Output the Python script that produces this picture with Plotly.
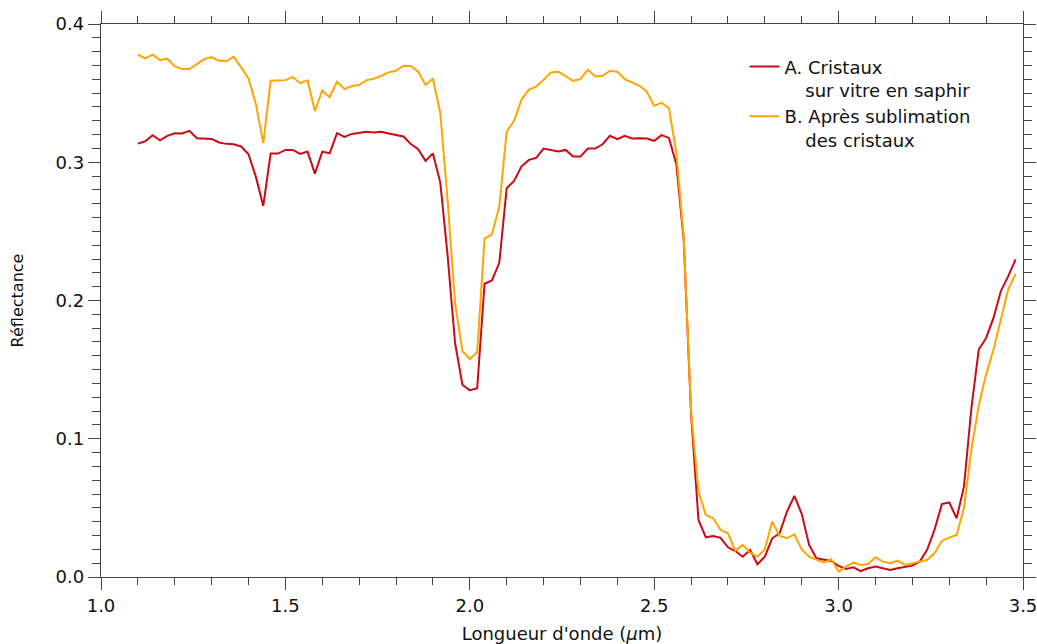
import plotly.graph_objects as go

wavelength = [
    1.10, 1.12, 1.14, 1.16, 1.18, 1.20, 1.22, 1.24, 1.26, 1.28,
    1.30, 1.32, 1.34, 1.36, 1.38, 1.40, 1.42, 1.44, 1.46, 1.48,
    1.50, 1.52, 1.54, 1.56, 1.58, 1.60, 1.62, 1.64, 1.66, 1.68,
    1.70, 1.72, 1.74, 1.76, 1.78, 1.80, 1.82, 1.84, 1.86, 1.88,
    1.90, 1.92, 1.94, 1.96, 1.98, 2.00, 2.02, 2.04, 2.06, 2.08,
    2.10, 2.12, 2.14, 2.16, 2.18, 2.20, 2.22, 2.24, 2.26, 2.28,
    2.30, 2.32, 2.34, 2.36, 2.38, 2.40, 2.42, 2.44, 2.46, 2.48,
    2.50, 2.52, 2.54, 2.56, 2.58, 2.60, 2.62, 2.64, 2.66, 2.68,
    2.70, 2.72, 2.74, 2.76, 2.78, 2.80, 2.82, 2.84, 2.86, 2.88,
    2.90, 2.92, 2.94, 2.96, 2.98, 3.00, 3.02, 3.04, 3.06, 3.08,
    3.10, 3.12, 3.14, 3.16, 3.18, 3.20, 3.22, 3.24, 3.26, 3.28,
    3.30, 3.32, 3.34, 3.36, 3.38, 3.40, 3.42, 3.44, 3.46, 3.48,
]

refl_A = [
    0.3135, 0.3152, 0.3196, 0.3159, 0.3191, 0.3210, 0.3208, 0.3227, 0.3174, 0.3172,
    0.3169, 0.3143, 0.3133, 0.3130, 0.3114, 0.3058, 0.2894, 0.2684, 0.3063, 0.3063,
    0.3089, 0.3089, 0.3060, 0.3077, 0.2918, 0.3077, 0.3065, 0.3210, 0.3184, 0.3205,
    0.3215, 0.3220, 0.3215, 0.3220, 0.3208, 0.3198, 0.3186, 0.3132, 0.3094, 0.3010,
    0.3063, 0.2853, 0.2320, 0.1693, 0.1391, 0.1350, 0.1365, 0.2121, 0.2145, 0.2273,
    0.2812, 0.2865, 0.2969, 0.3017, 0.3031, 0.3099, 0.3089, 0.3077, 0.3089, 0.3041,
    0.3041, 0.3099, 0.3099, 0.3130, 0.3191, 0.3167, 0.3191, 0.3172, 0.3174, 0.3172,
    0.3155, 0.3196, 0.3176, 0.2986, 0.2440, 0.1180, 0.0413, 0.0287, 0.0297, 0.0283,
    0.0215, 0.0188, 0.0147, 0.0196, 0.0092, 0.0147, 0.0280, 0.0316, 0.0473, 0.0587,
    0.0457, 0.0232, 0.0135, 0.0123, 0.0116, 0.0080, 0.0058, 0.0070, 0.0043, 0.0063,
    0.0075, 0.0063, 0.0051, 0.0063, 0.0075, 0.0082, 0.0111, 0.0196, 0.0341, 0.0527,
    0.0539, 0.0425, 0.0655, 0.1220, 0.1645, 0.1729, 0.1874, 0.2068, 0.2176, 0.2297,
]

refl_B = [
    0.3778, 0.3751, 0.3778, 0.3739, 0.3749, 0.3693, 0.3674, 0.3674, 0.3710, 0.3746,
    0.3761, 0.3734, 0.3732, 0.3763, 0.3686, 0.3606, 0.3420, 0.3138, 0.3589, 0.3589,
    0.3594, 0.3616, 0.3572, 0.3592, 0.3370, 0.3519, 0.3471, 0.3582, 0.3529, 0.3551,
    0.3558, 0.3594, 0.3604, 0.3626, 0.3650, 0.3662, 0.3698, 0.3696, 0.3655, 0.3560,
    0.3604, 0.3355, 0.2720, 0.1985, 0.1633, 0.1577, 0.1626, 0.2447, 0.2478, 0.2679,
    0.3222, 0.3299, 0.3452, 0.3524, 0.3546, 0.3597, 0.3650, 0.3655, 0.3623, 0.3589,
    0.3601, 0.3669, 0.3621, 0.3626, 0.3662, 0.3655, 0.3601, 0.3577, 0.3553, 0.3510,
    0.3408, 0.3430, 0.3391, 0.3070, 0.2460, 0.1200, 0.0618, 0.0449, 0.0425, 0.0341,
    0.0316, 0.0191, 0.0232, 0.0176, 0.0147, 0.0200, 0.0401, 0.0297, 0.0280, 0.0309,
    0.0200, 0.0147, 0.0123, 0.0104, 0.0128, 0.0039, 0.0075, 0.0104, 0.0087, 0.0094,
    0.0143, 0.0111, 0.0099, 0.0118, 0.0087, 0.0099, 0.0111, 0.0123, 0.0171, 0.0261,
    0.0285, 0.0304, 0.0498, 0.0920, 0.1240, 0.1464, 0.1645, 0.1862, 0.2080, 0.2193,
]

indent = "\u00a0\u00a0\u00a0\u2009"
name_A = "A. Cristaux<br>" + indent + "sur vitre en saphir"
name_B = "B. Après sublimation<br>" + indent + "des cristaux"

x_title = "Longueur d'onde (<i>μ</i>m)"
y_title = "Réflectance"

fig = go.Figure()
fig.add_trace(go.Scatter(x=wavelength, y=refl_A, mode="lines", name=name_A,
                         line=dict(color="#CC0A14", width=2)))
fig.add_trace(go.Scatter(x=wavelength, y=refl_B, mode="lines", name=name_B,
                         line=dict(color="#FFA500", width=2)))

axis_common = dict(
    showline=True, linecolor="#444444", linewidth=1.3,
    mirror="allticks", ticks="outside", tickcolor="#444444", tickwidth=1.3,
    showgrid=False, zeroline=False, automargin=False,
    ticklabeloverflow="allow",
    tickfont=dict(family="DejaVu Sans", size=18, color="#111111"),
)

fig.update_xaxes(
    range=[1.0, 3.5], dtick=0.5, tick0=1.0, tickformat=".1f", ticklen=12,
    minor=dict(dtick=0.1, ticks="outside", ticklen=7, tickcolor="#444444", tickwidth=1.3),
    title=dict(text=x_title, font=dict(family="DejaVu Sans", size=18, color="#111111"), standoff=12),
    **axis_common,
)
fig.update_yaxes(
    range=[0.0, 0.4], dtick=0.1, tick0=0.0, tickformat=".1f", ticklen=12,
    minor=dict(dtick=0.01, ticks="outside", ticklen=8, tickcolor="#444444", tickwidth=1.3),
    title=dict(text=y_title, font=dict(family="DejaVu Sans", size=16, color="#111111"), standoff=28),
    **axis_common,
)

fig.update_layout(
    width=1037, height=644,
    margin=dict(l=101, r=14, t=24, b=67),
    paper_bgcolor="white", plot_bgcolor="white",
    legend=dict(x=0.698, y=0.956, xanchor="left", yanchor="top", valign="top",
                font=dict(family="DejaVu Sans", size=18, color="#111111"),
                bgcolor="rgba(0,0,0,0)", tracegroupgap=2),
)

fig.write_html(
    "out.html",
    config={"displayModeBar": False},
    post_script="document.body.style.margin='0';document.body.style.overflow='hidden';",
)
